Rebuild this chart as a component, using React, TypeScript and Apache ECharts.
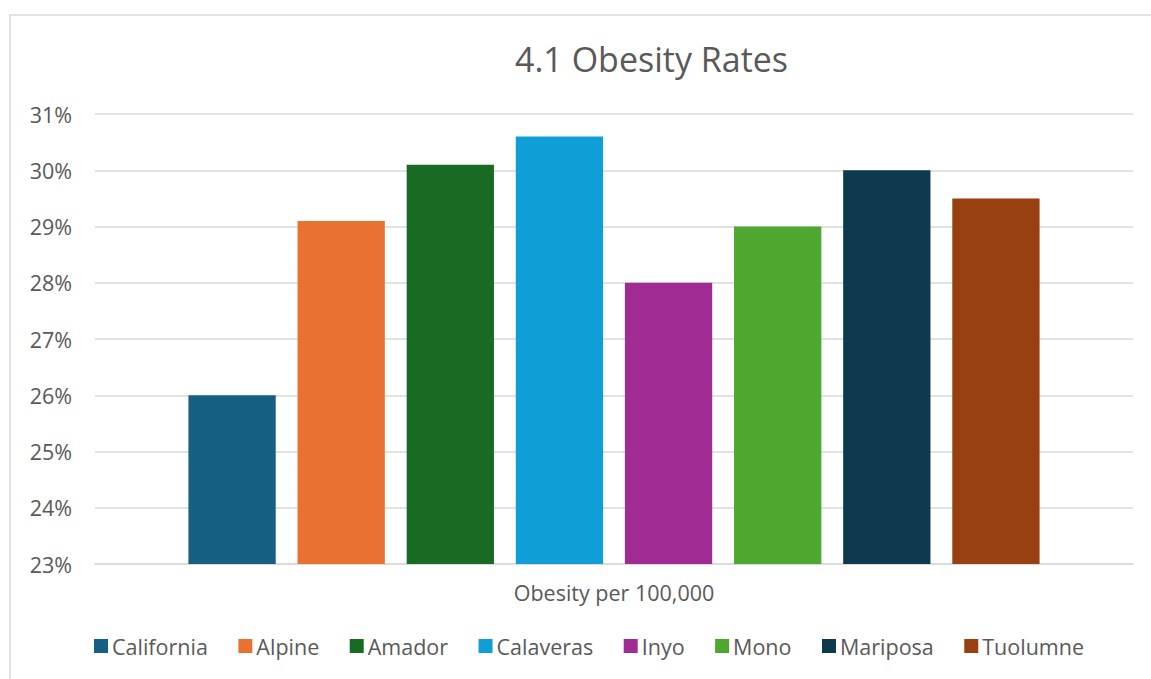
import React, { useEffect, useRef } from "react";
import * as echarts from "echarts";

const categories = ["Obesity per 100,000"];
const counties = ["California", "Alpine", "Amador", "Calaveras", "Inyo", "Mono", "Mariposa", "Tuolumne"];
const rates = [26.0, 29.1, 30.1, 30.6, 28.0, 29.0, 30.0, 29.5];
const colors = ["#156082", "#E97132", "#196B24", "#0F9ED5", "#A02B93", "#4EA72E", "#0E3A4F", "#98400F"];
const yTicks = { min: 23, max: 31, interval: 1 };

const textColor = "#595959";
const font = "'Open Sans', 'Noto Sans', sans-serif";

export default function App() {
  const ref = useRef<HTMLDivElement>(null);

  useEffect(() => {
    if (!ref.current) return;
    const chart = echarts.init(ref.current, undefined, { renderer: "svg" });
    chart.setOption({
      animation: false,
      backgroundColor: "#ffffff",
      textStyle: { fontFamily: font, color: textColor },
      graphic: [
        {
          type: "rect",
          shape: { x: 10, y: 15, width: 1160, height: 690 },
          style: { fill: "none", stroke: "#d9d9d9", lineWidth: 1.5 },
          silent: true,
        },
      ],
      title: {
        text: "4.1 Obesity Rates",
        left: 510,
        top: 37,
        textStyle: { fontFamily: font, fontSize: 34, fontWeight: "normal", color: textColor },
      },
      grid: { left: 95, right: 18, top: 114, bottom: 115, containLabel: false },
      legend: {
        top: 630,
        left: 89,
        itemWidth: 14,
        itemHeight: 14,
        itemGap: 30.5,
        icon: "rect",
        textStyle: { fontFamily: font, fontSize: 21.5, color: textColor, padding: [0, 0, 0, -1] },
        data: counties,
      },
      xAxis: {
        type: "category",
        data: categories,
        name: categories[0],
        nameLocation: "middle",
        nameGap: 17,
        nameTextStyle: { fontFamily: font, fontSize: 21.5, color: textColor },
        axisLine: { lineStyle: { color: "#d9d9d9", width: 1.5 } },
        axisTick: { show: false },
        axisLabel: { show: false },
      },
      yAxis: {
        type: "value",
        min: yTicks.min,
        max: yTicks.max,
        interval: yTicks.interval,
        axisLine: { show: false },
        axisTick: { show: false },
        axisLabel: {
          margin: 23,
          fontFamily: font,
          fontSize: 21.5,
          color: textColor,
          formatter: (v: number) => `${v}%`,
        },
        splitLine: { lineStyle: { color: "#d9d9d9", width: 1.5 } },
      },
      series: counties.map((name, i) => ({
        name,
        type: "bar",
        data: [rates[i]],
        itemStyle: { color: colors[i] },
        barGap: "25%",
        barCategoryGap: "18%",
      })),
    });
    return () => chart.dispose();
  }, []);

  return (
    <div
      ref={ref}
      style={{ position: "fixed", left: 0, top: 0, width: 1151, height: 679 }}
    />
  );
}
